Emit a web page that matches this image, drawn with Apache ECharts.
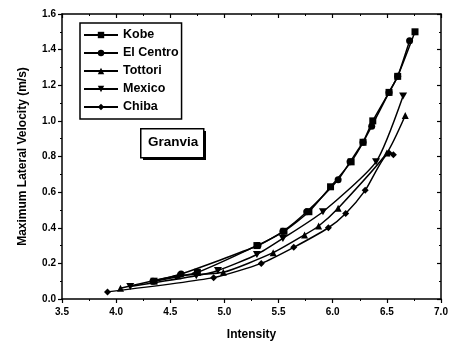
<!DOCTYPE html>
<html><head><meta charset="utf-8">
<script src="https://cdn.jsdelivr.net/npm/echarts@6/dist/echarts.min.js"></script>
<style>html,body{margin:0;padding:0;background:#fff}#c{width:455px;height:346px}</style>
</head><body><div id="c"></div>
<script>
const seriesNames = ['Kobe', 'El Centro', 'Tottori', 'Mexico', 'Chiba'];
const kobe = [[4.35,0.10],[4.75,0.15],[5.30,0.30],[5.55,0.38],[5.78,0.49],[5.98,0.63],[6.17,0.77],[6.28,0.88],[6.37,1.00],[6.52,1.16],[6.60,1.25],[6.76,1.50]];
const elCentro = [[4.34,0.10],[4.60,0.14],[5.31,0.30],[5.54,0.38],[5.76,0.49],[6.05,0.67],[6.16,0.77],[6.28,0.88],[6.36,0.97],[6.52,1.16],[6.60,1.25],[6.71,1.45]];
const tottori = [[4.04,0.06],[4.57,0.13],[4.99,0.15],[5.45,0.26],[5.74,0.36],[5.87,0.41],[6.05,0.51],[6.50,0.82],[6.67,1.03]];
const mexico = [[4.13,0.07],[4.74,0.13],[4.94,0.16],[5.30,0.25],[5.54,0.34],[5.91,0.49],[6.40,0.77],[6.65,1.14]];
const chiba = [[3.92,0.04],[4.90,0.12],[5.34,0.20],[5.64,0.29],[5.96,0.40],[6.12,0.48],[6.30,0.61],[6.52,0.82],[6.56,0.81]];
const symbols = ['rect', 'circle', 'triangle', 'path://M0,0 L10,0 L5,10 Z', 'diamond'];
const allData = [kobe, elCentro, tottori, mexico, chiba];

const font = 'Liberation Sans';
const chart = echarts.init(document.getElementById('c'));
const axisLineStyle = {color: '#000', width: 1.5};
const xBase = {type: 'value', min: 3.5, max: 7.0, interval: 0.5, splitLine: {show: false},
  axisLine: {show: true, onZero: false, lineStyle: axisLineStyle}};
const yBase = {type: 'value', min: 0, max: 1.6, interval: 0.2, splitLine: {show: false},
  axisLine: {show: true, onZero: false, lineStyle: axisLineStyle}};
chart.setOption({
  animation: false,
  backgroundColor: '#fff',
  grid: {left: 62, right: 14, top: 14, bottom: 45},
  xAxis: [
    Object.assign({}, xBase, {position: 'bottom', name: 'Intensity', nameLocation: 'middle', nameGap: 30,
      nameTextStyle: {fontFamily: font, fontSize: 12, fontWeight: 'bold', color: '#000'},
      axisTick: {show: true, inside: false, length: 4, lineStyle: {color: '#000', width: 1.2}},
      minorTick: {show: true, splitNumber: 2, length: 2, lineStyle: {color: '#000'}},
      axisLabel: {fontFamily: font, fontSize: 10, fontWeight: 'bold', color: '#000', margin: 8,
        formatter: v => v.toFixed(1)}}),
    Object.assign({}, xBase, {position: 'top',
      axisTick: {show: true, inside: true, length: 4, lineStyle: {color: '#000', width: 1.2}},
      minorTick: {show: true, splitNumber: 2, length: 2, lineStyle: {color: '#000'}},
      axisLabel: {show: false}})
  ],
  yAxis: [
    Object.assign({}, yBase, {position: 'left', name: 'Maximum Lateral Velocity (m/s)', nameLocation: 'middle', nameGap: 33,
      nameTextStyle: {fontFamily: font, fontSize: 12, fontWeight: 'bold', color: '#000'},
      axisTick: {show: true, inside: false, length: 4, lineStyle: {color: '#000', width: 1.2}},
      minorTick: {show: true, splitNumber: 2, length: 2, lineStyle: {color: '#000'}},
      axisLabel: {fontFamily: font, fontSize: 10, fontWeight: 'bold', color: '#000', margin: 6,
        formatter: v => v.toFixed(1)}}),
    Object.assign({}, yBase, {position: 'right',
      axisTick: {show: true, inside: true, length: 4, lineStyle: {color: '#000', width: 1.2}},
      minorTick: {show: true, splitNumber: 2, length: 2, lineStyle: {color: '#000'}},
      axisLabel: {show: false}})
  ],
  legend: {
    orient: 'vertical', left: 80, top: 23, data: seriesNames,
    borderColor: '#000', borderWidth: 1.5, padding: [5, 3, 5, 3], itemGap: 4,
    itemWidth: 34, itemHeight: 8,
    textStyle: {fontFamily: font, fontSize: 12.5, fontWeight: 'bold', color: '#000', lineHeight: 14}
  },
  graphic: [
    {type: 'rect', left: 143, top: 131, shape: {width: 63, height: 29}, style: {fill: '#000'}, z: 10},
    {type: 'rect', left: 140, top: 128, shape: {width: 63, height: 29}, style: {fill: '#fff', stroke: '#000', lineWidth: 1.5}, z: 11},
    {type: 'text', left: 148, top: 135, style: {text: 'Granvia', fontFamily: font, fontSize: 13.5, fontWeight: 'bold', fill: '#000'}, z: 12}
  ],
  series: seriesNames.map((n, i) => ({
    name: n, type: 'line', data: allData[i], symbol: symbols[i],
    symbolSize: i === 3 ? [8, 7] : 7, smooth: 0.2,
    lineStyle: {color: '#000', width: 1.5}, itemStyle: {color: '#000'}
  }))
});
</script></body></html>
